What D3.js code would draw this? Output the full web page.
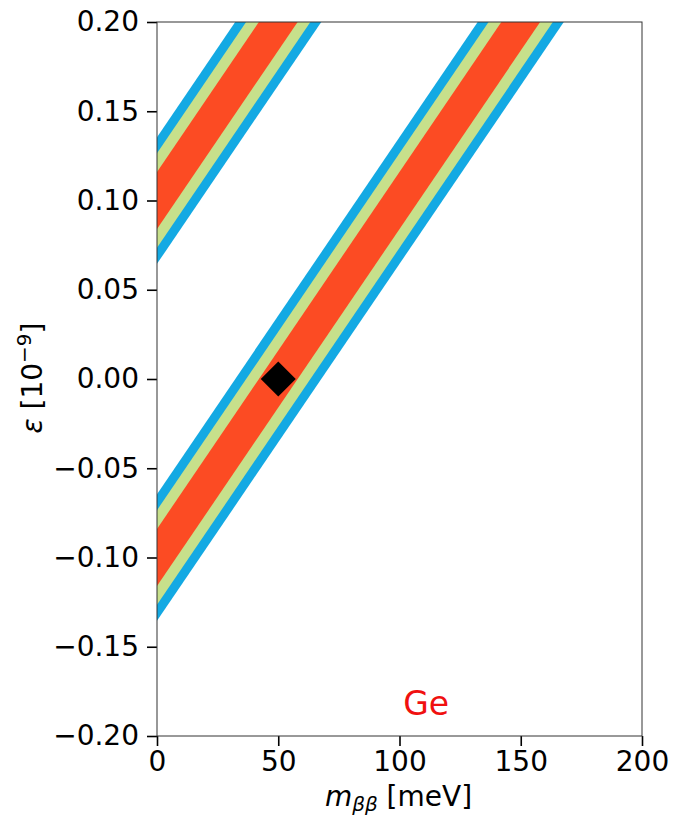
<!DOCTYPE html>
<html>
<head>
<meta charset="utf-8">
<script src="https://cdn.jsdelivr.net/npm/d3@7"></script>
<style>
  body { margin: 0; background: #fff; }
  text { font-family: "DejaVu Sans", sans-serif; }
</style>
</head>
<body>
<svg id="chart" width="673" height="819"></svg>
<script>
// tick values
const xTicks = [0, 50, 100, 150, 200];
const yTicks = [-0.2, -0.15, -0.1, -0.05, 0, 0.05, 0.1, 0.15, 0.2];

// the two diagonal bands
const bandCentreAtZero = [-0.1, 0.1];      // ε of band centre at mββ = 0
const bandSlope = 0.002;                   // ε per meV
const bandHalfWidths = [0.0355, 0.0265, 0.016];   // outer -> inner
const bandColours = ["#13a9e3", "#c7e08b", "#fc4b23"];

// best fit marker
const bestFit = [{ m: 50, eps: 0 }];
const label = { m: 111, eps: -0.1885, text: "Ge" };

const svg = d3.select("#chart");
const margin = { top: 22, right: 31, bottom: 83, left: 157 };
const width = 673 - margin.left - margin.right;
const height = 819 - margin.top - margin.bottom;

const x = d3.scaleLinear().domain([0, 200]).range([0, width]);
const y = d3.scaleLinear().domain([-0.2, 0.2]).range([height, 0]);

const g = svg.append("g")
  .attr("transform", "translate(" + margin.left + "," + margin.top + ")");

svg.append("defs").append("clipPath").attr("id", "plotClip")
  .append("rect").attr("width", width).attr("height", height);

const bands = g.append("g").attr("clip-path", "url(#plotClip)");

// build polygons from centre line +/- half width
const m0 = x.domain()[0], m1 = x.domain()[1];
bandCentreAtZero.forEach(function (c) {
  bandHalfWidths.forEach(function (w, i) {
    const pts = [
      [m0, c + bandSlope * m0 - w],
      [m1, c + bandSlope * m1 - w],
      [m1, c + bandSlope * m1 + w],
      [m0, c + bandSlope * m0 + w]
    ];
    bands.append("path")
      .attr("d", d3.line().x(d => x(d[0])).y(d => y(d[1]))(pts) + "Z")
      .attr("fill", bandColours[i]);
  });
});

// diamond
g.selectAll(".best")
  .data(bestFit)
  .enter().append("path")
  .attr("class", "best")
  .attr("transform", d => "translate(" + x(d.m) + "," + y(d.eps) + ")")
  .attr("d", "M0,-17.5L17.5,0L0,17.5L-17.5,0Z")
  .attr("fill", "#000");

// Ge label
g.append("text")
  .attr("x", x(label.m))
  .attr("y", y(label.eps))
  .attr("text-anchor", "middle")
  .attr("fill", "#f01010")
  .style("font-size", "33px")
  .text(label.text);

// axes
const fmt = d => (d < 0 ? "\u2212" : "") + Math.abs(d).toFixed(2);

const xAxis = g.append("g")
  .attr("transform", "translate(0," + height + ")")
  .call(d3.axisBottom(x).tickValues(xTicks).tickSize(10).tickPadding(5).tickFormat(d3.format("d")));

const yAxis = g.append("g")
  .call(d3.axisLeft(y).tickValues(yTicks).tickSize(10).tickPadding(8).tickFormat(fmt));

[xAxis, yAxis].forEach(function (a) {
  a.select(".domain").remove();
  a.selectAll(".tick line").attr("stroke", "#000").attr("stroke-width", 1.6);
  a.selectAll(".tick text")
    .attr("fill", "#000")
    .style("font-size", "28px")
    .style("font-family", "'DejaVu Sans', sans-serif");
});

// frame
g.append("rect")
  .attr("width", width).attr("height", height)
  .attr("fill", "none").attr("stroke", "#333").attr("stroke-width", 1);

// x label
const xl = svg.append("text")
  .attr("x", margin.left + width / 2 - 1)
  .attr("y", 806)
  .attr("text-anchor", "middle")
  .style("font-size", "28px");
xl.append("tspan").style("font-style", "italic").text("m");
xl.append("tspan").style("font-style", "italic").style("font-size", "20px").attr("dy", 5).text("ββ");
xl.append("tspan").attr("dy", -5).text(" [meV]");

// y label
const yl = svg.append("text")
  .attr("transform", "translate(42," + (margin.top + height / 2 - 1) + ") rotate(-90)")
  .attr("text-anchor", "middle")
  .style("font-size", "28px");
yl.append("tspan").style("font-style", "italic").text("ε");
yl.append("tspan").text(" [10");
yl.append("tspan").style("font-size", "20px").attr("dy", -11).text("−9");
yl.append("tspan").attr("dy", 11).text("]");
</script>
</body>
</html>
